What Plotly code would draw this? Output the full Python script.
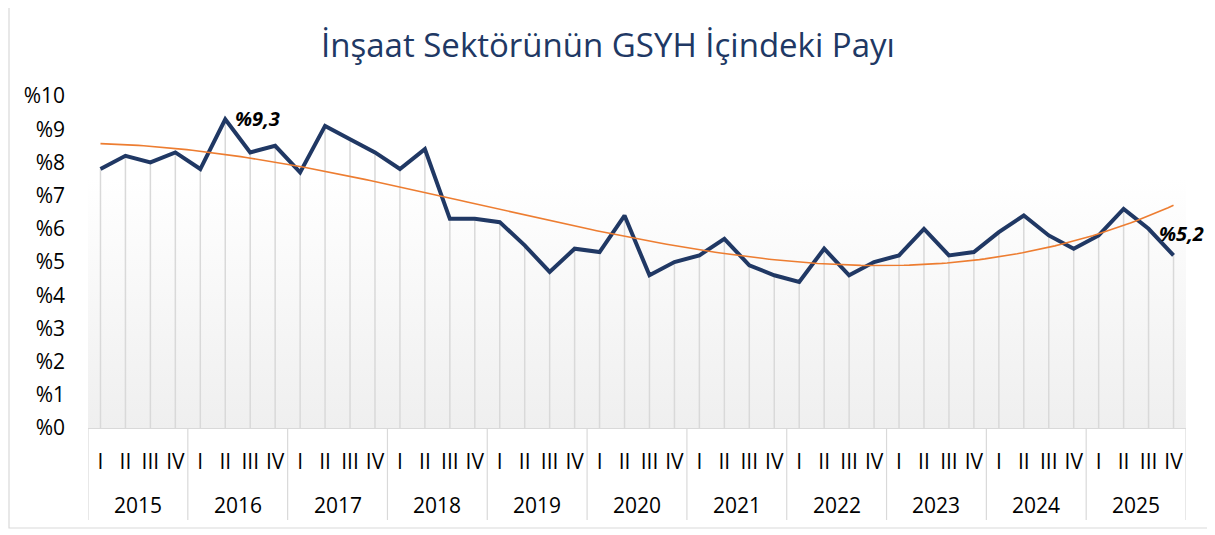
import numpy as np
import plotly.graph_objects as go

years = ["2015", "2016", "2017", "2018", "2019", "2020", "2021", "2022", "2023", "2024", "2025"]
quarters = ["I", "II", "III", "IV"]
share = [7.8, 8.2, 8.0, 8.3,
         7.8, 9.3, 8.3, 8.5,
         7.7, 9.1, 8.7, 8.3,
         7.8, 8.4, 6.3, 6.3,
         6.2, 5.5, 4.7, 5.4,
         5.3, 6.4, 4.6, 5.0,
         5.2, 5.7, 4.9, 4.6,
         4.4, 5.4, 4.6, 5.0,
         5.2, 6.0, 5.2, 5.3,
         5.9, 6.4, 5.8, 5.4,
         5.8, 6.6, 6.0, 5.2]
y_ticks = list(range(0, 11))
label_points = {5: "%9,3", 43: "%5,2"}

n = len(share)
xs = list(range(n))
tick_text = [quarters[i % 4] for i in xs]

# Excel-style polynomial trendline (order 3), fitted on the series
coef = np.polyfit(np.arange(1, n + 1), share, 3)
trend_x = np.linspace(1, n, 200)
trend_y = np.polyval(coef, trend_x)

navy = "#203864"
orange = "#ED7D31"
grid = "#D9D9D9"
font_family = "'Open Sans', sans-serif"

# page body has an 8px default margin: the figure is laid out in page pixels minus 8
OFF = 8
W, Hfig = 1215 - OFF, 535 - OFF
PL, PR, PT, PB = 88 - OFF, 1186 - OFF, 96 - OFF, 428 - OFF

fig = go.Figure()

# gradient plot-area background
fig.add_trace(go.Scatter(
    x=[-0.5, n - 0.5], y=[10, 10], mode="lines", line=dict(width=0),
    fill="tozeroy",
    fillgradient=dict(type="vertical", start=0, stop=10,
                      colorscale=[[0, "#EFEFEF"], [0.75, "#FFFFFF"], [1, "#FFFFFF"]]),
    hoverinfo="skip", showlegend=False))

# drop lines
dx, dy = [], []
for i, v in enumerate(share):
    dx += [i, i, None]
    dy += [0, v, None]
fig.add_trace(go.Scatter(x=dx, y=dy, mode="lines", line=dict(color=grid, width=1.5),
                         hoverinfo="skip", showlegend=False))

fig.add_trace(go.Scatter(x=xs, y=share, mode="lines",
                         line=dict(color=navy, width=4), showlegend=False))
fig.add_trace(go.Scatter(x=trend_x - 1, y=trend_y, mode="lines",
                         line=dict(color=orange, width=1.6), showlegend=False,
                         hoverinfo="skip"))

PH = float(PB - PT)
PW = float(PR - PL)
def py(pix):  # page pixel -> paper y
    return (428 - pix) / PH
def px(pix):  # page pixel -> paper x
    return (pix - 88) / PW

shapes = []
for k in range(len(years) + 1):
    xv = -0.5 + 4 * k
    shapes.append(dict(type="line", xref="x", yref="paper", x0=xv, x1=xv,
                       y0=0, y1=py(520), line=dict(color=grid, width=1.2)))
# outer chart border
shapes.append(dict(type="rect", xref="paper", yref="paper",
                   x0=px(OFF + 1), x1=px(1212),
                   y0=py(528), y1=py(-20), line=dict(color="#D9D9D9", width=1.2),
                   fillcolor="rgba(0,0,0,0)", layer="below"))

annotations = []
for k, yr in enumerate(years):
    annotations.append(dict(x=1.5 + 4 * k, y=py(505), xref="x", yref="paper",
                            text=yr, showarrow=False, yanchor="middle",
                            font=dict(size=21, color="#000000", family=font_family)))
annotations.append(dict(x=5, y=share[5], xref="x", yref="y", text="<b><i>" + label_points[5] + "</i></b>",
                        showarrow=False, xanchor="left", yanchor="middle", xshift=8, yshift=1,
                        font=dict(size=20, color="#000000", family=font_family)))
annotations.append(dict(x=43, y=share[43], xref="x", yref="y", text="<b><i>" + label_points[43] + "</i></b>",
                        showarrow=False, xanchor="center", yanchor="middle", xshift=8, yshift=22,
                        font=dict(size=20, color="#000000", family=font_family)))

fig.update_layout(
    width=W, height=Hfig,
    margin=dict(l=PL, r=W - PR, t=PT, b=Hfig - PB),
    paper_bgcolor="#FFFFFF", plot_bgcolor="rgba(0,0,0,0)",
    title=dict(text="İnşaat Sektörünün GSYH İçindeki Payı", x=(608 - OFF) / W, xref="container",
               y=1 - (45 - OFF) / Hfig, yref="container", xanchor="center", yanchor="middle",
               font=dict(size=33, color=navy, family=font_family)),
    xaxis=dict(range=[-0.5, n - 0.5], tickvals=xs, ticktext=tick_text, showgrid=False,
               zeroline=False, showline=True, linecolor=grid, linewidth=1.2, ticks="",
               ticklabelstandoff=15, tickangle=0,
               tickfont=dict(size=21, color="#000000", family=font_family)),
    yaxis=dict(range=[0, 10], tickvals=y_ticks, ticktext=["%" + str(v) for v in y_ticks],
               showgrid=False, zeroline=False, showline=False, ticks="",
               ticklabelstandoff=22,
               tickfont=dict(size=21, color="#000000", family=font_family)),
    shapes=shapes, annotations=annotations,
)

fig.write_html("out.html")
